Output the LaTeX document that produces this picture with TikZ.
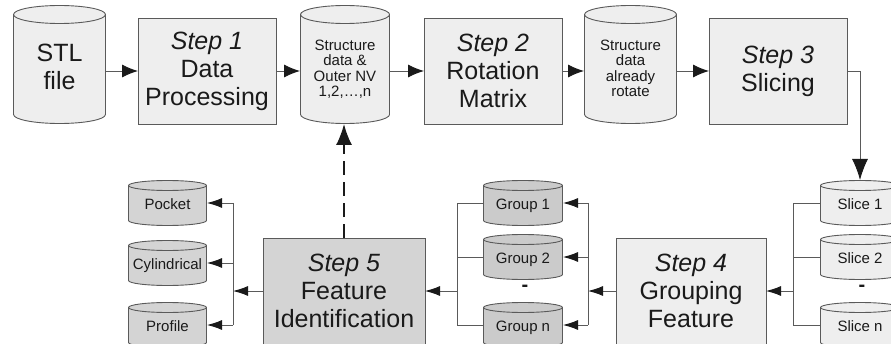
\documentclass[tikz,border=0pt]{standalone}
\usepackage{fontspec}
\setmainfont{Liberation Sans}
\usetikzlibrary{arrows.meta,calc}
\definecolor{boxfill}{HTML}{EEEEEE}
\definecolor{darkfill}{HTML}{D4D4D4}
\definecolor{grpfill}{HTML}{CBCBCB}
\definecolor{edge}{HTML}{5A5A5A}
\definecolor{ink}{HTML}{1A1A1A}
\newcommand\mycylshape[2]{%
  \path[draw=edge, line width=0.9pt, fill=#2]
    let \p1=(path picture bounding box.south west),
        \p2=(path picture bounding box.north east),
        \n1={(\x2-\x1)/2-0.5pt} in
    (\x1+0.5pt,\y2-0.5pt-#1) -- (\x1+0.5pt,\y1+0.5pt+#1)
    arc[start angle=180, end angle=360, x radius=\n1, y radius=#1]
    -- (\x2-0.5pt,\y2-0.5pt-#1)
    arc[start angle=0, end angle=180, x radius=\n1, y radius=#1] -- cycle
    (\x1+0.5pt,\y2-0.5pt-#1) arc[start angle=180, end angle=360, x radius=\n1, y radius=#1];
}
\newcommand\lowtext[2]{\raisebox{-#1}[\height][\depth]{\begin{tabular}{@{}c@{}}#2\end{tabular}}}
\tikzset{
  bigtxt/.style={font=\fontsize{25}{28}\selectfont, text=ink, align=center},
  smalltxt/.style={font=\fontsize{15}{15.5}\selectfont, text=ink, align=center},
  stepbox/.style={draw=edge, line width=0.9pt, fill=#1, inner sep=0pt, outer sep=0pt, bigtxt},
  stepbox/.default=boxfill,
  bigcyl/.style={inner sep=0pt, outer sep=0pt, minimum height=119pt,
    path picture={\mycylshape{9pt}{boxfill}}},
  smallcyl/.style={inner sep=0pt, outer sep=0pt, minimum height=46pt, minimum width=80pt,
    smalltxt, path picture={\mycylshape{5pt}{#1}}},
  smallcyl/.default=boxfill,
  line/.style={draw=edge, line width=0.9pt},
  arr/.style={line, -{Latex[length=16pt, width=13pt, color=ink]}},
  sarr/.style={line, -{Latex[length=15pt, width=10pt, color=ink]}},
  barr/.style={line, -{Latex[length=21pt, width=16pt, color=ink]}},
  dasharr/.style={draw=ink, line width=1.6pt, dash pattern=on 14pt off 7pt,
    -{Latex[length=21pt, width=16pt, color=ink]}},
  gap/.style={font=\fontsize{20}{20}\selectfont\bfseries, text=ink, inner sep=0pt}
}
\begin{document}
\begin{tikzpicture}[x=1pt, y=1pt]
\useasboundingbox (0,0) rectangle (891,343);
\clip (0,0) rectangle (891,343);
% top row
\node[bigcyl, minimum width=93pt, bigtxt] (stl) at (59.5,278.5) {\lowtext{5pt}{STL\\file}};
\node[stepbox, minimum width=138pt, minimum height=106pt] (s1) at (207,272)
  {\textit{Step 1}\\Data\\Processing};
\node[bigcyl, minimum width=90pt, smalltxt] (sd) at (345,278.5)
  {\lowtext{6pt}{Structure\\data \&\\Outer NV\\1,2,…,n}};
\node[stepbox, minimum width=138pt, minimum height=106pt] (s2) at (493,272)
  {\textit{Step 2}\\Rotation\\Matrix};
\node[bigcyl, minimum width=93pt, smalltxt] (sr) at (630.5,278.5)
  {\lowtext{6pt}{Structure\\data\\already\\rotate}};
\node[stepbox, minimum width=138pt, minimum height=106pt] (s3) at (778,272)
  {\textit{Step 3}\\Slicing};
% bottom row
\node[smallcyl] (sl1) at (860,140) {\lowtext{3pt}{Slice 1}};
\node[smallcyl] (sl2) at (860,86) {\lowtext{3pt}{Slice 2}};
\node[gap] (sldash) at (862,55) {-};
\node[smallcyl] (sln) at (860,18) {\lowtext{3pt}{Slice n}};
\node[stepbox, minimum width=150pt, minimum height=106pt] (s4) at (691,52)
  {\textit{Step 4}\\Grouping\\Feature};
\node[smallcyl=grpfill] (g1) at (523,140) {\lowtext{3pt}{Group 1}};
\node[smallcyl=grpfill] (g2) at (523,86) {\lowtext{3pt}{Group 2}};
\node[gap] (gdash) at (525,55) {-};
\node[smallcyl=grpfill] (gn) at (523,18) {\lowtext{3pt}{Group n}};
\node[stepbox=darkfill, minimum width=162pt, minimum height=106pt] (s5) at (344,52)
  {\textit{Step 5}\\Feature\\Identification};
\node[smallcyl=darkfill, minimum width=79pt] (fp) at (167.5,140) {\lowtext{3pt}{Pocket}};
\node[smallcyl=darkfill, minimum width=79pt] (fc) at (167.5,80) {\lowtext{3pt}{Cylindrical}};
\node[smallcyl=darkfill, minimum width=79pt] (fr) at (167.5,18) {\lowtext{3pt}{Profile}};
% bus coordinates
\coordinate (sb) at ([xshift=27pt]s4.east);
\coordinate (gbr) at ([xshift=-28pt]s4.west);
\coordinate (gbl) at ([xshift=32pt]s5.east);
\coordinate (fb) at ([xshift=-30pt]s5.west);
% top connectors
\draw[arr] (stl.east |- s1.west) -- (s1.west);
\draw[arr] (s1.east) -- (sd.west |- s1.east);
\draw[arr] (sd.east |- s2.west) -- (s2.west);
\draw[arr] (s2.east) -- (sr.west |- s2.east);
\draw[arr] (sr.east |- s3.west) -- (s3.west);
\draw[barr] (s3.east) -| (sl1.north);
% slices to step 4
\draw[line] (sl1.west) -- (sl1.west -| sb) -- (sln.west -| sb) -- (sln.west);
\draw[line] (sl2.west) -- (sl2.west -| sb);
\draw[sarr] (sb) -- (s4.east);
% step 4 to groups
\draw[sarr] (s4.west) -- (gbr);
\draw[line] (g1.east -| gbr) -- (gn.east -| gbr);
\draw[sarr] (g1.east -| gbr) -- (g1.east);
\draw[sarr] (g2.east -| gbr) -- (g2.east);
\draw[sarr] (gn.east -| gbr) -- (gn.east);
% groups to step 5
\draw[line] (g1.west) -- (g1.west -| gbl) -- (gn.west -| gbl) -- (gn.west);
\draw[line] (g2.west) -- (g2.west -| gbl);
\draw[sarr] (gbl) -- (s5.east);
% step 5 to features
\draw[sarr] (s5.west) -- (fb);
\draw[line] (fp.east -| fb) -- (fr.east -| fb);
\draw[sarr] (fp.east -| fb) -- (fp.east);
\draw[sarr] (fc.east -| fb) -- (fc.east);
\draw[sarr] (fr.east -| fb) -- (fr.east);
% feedback
\draw[dasharr] (s5.north) -- (s5.north |- sd.south);
\end{tikzpicture}
\end{document}
